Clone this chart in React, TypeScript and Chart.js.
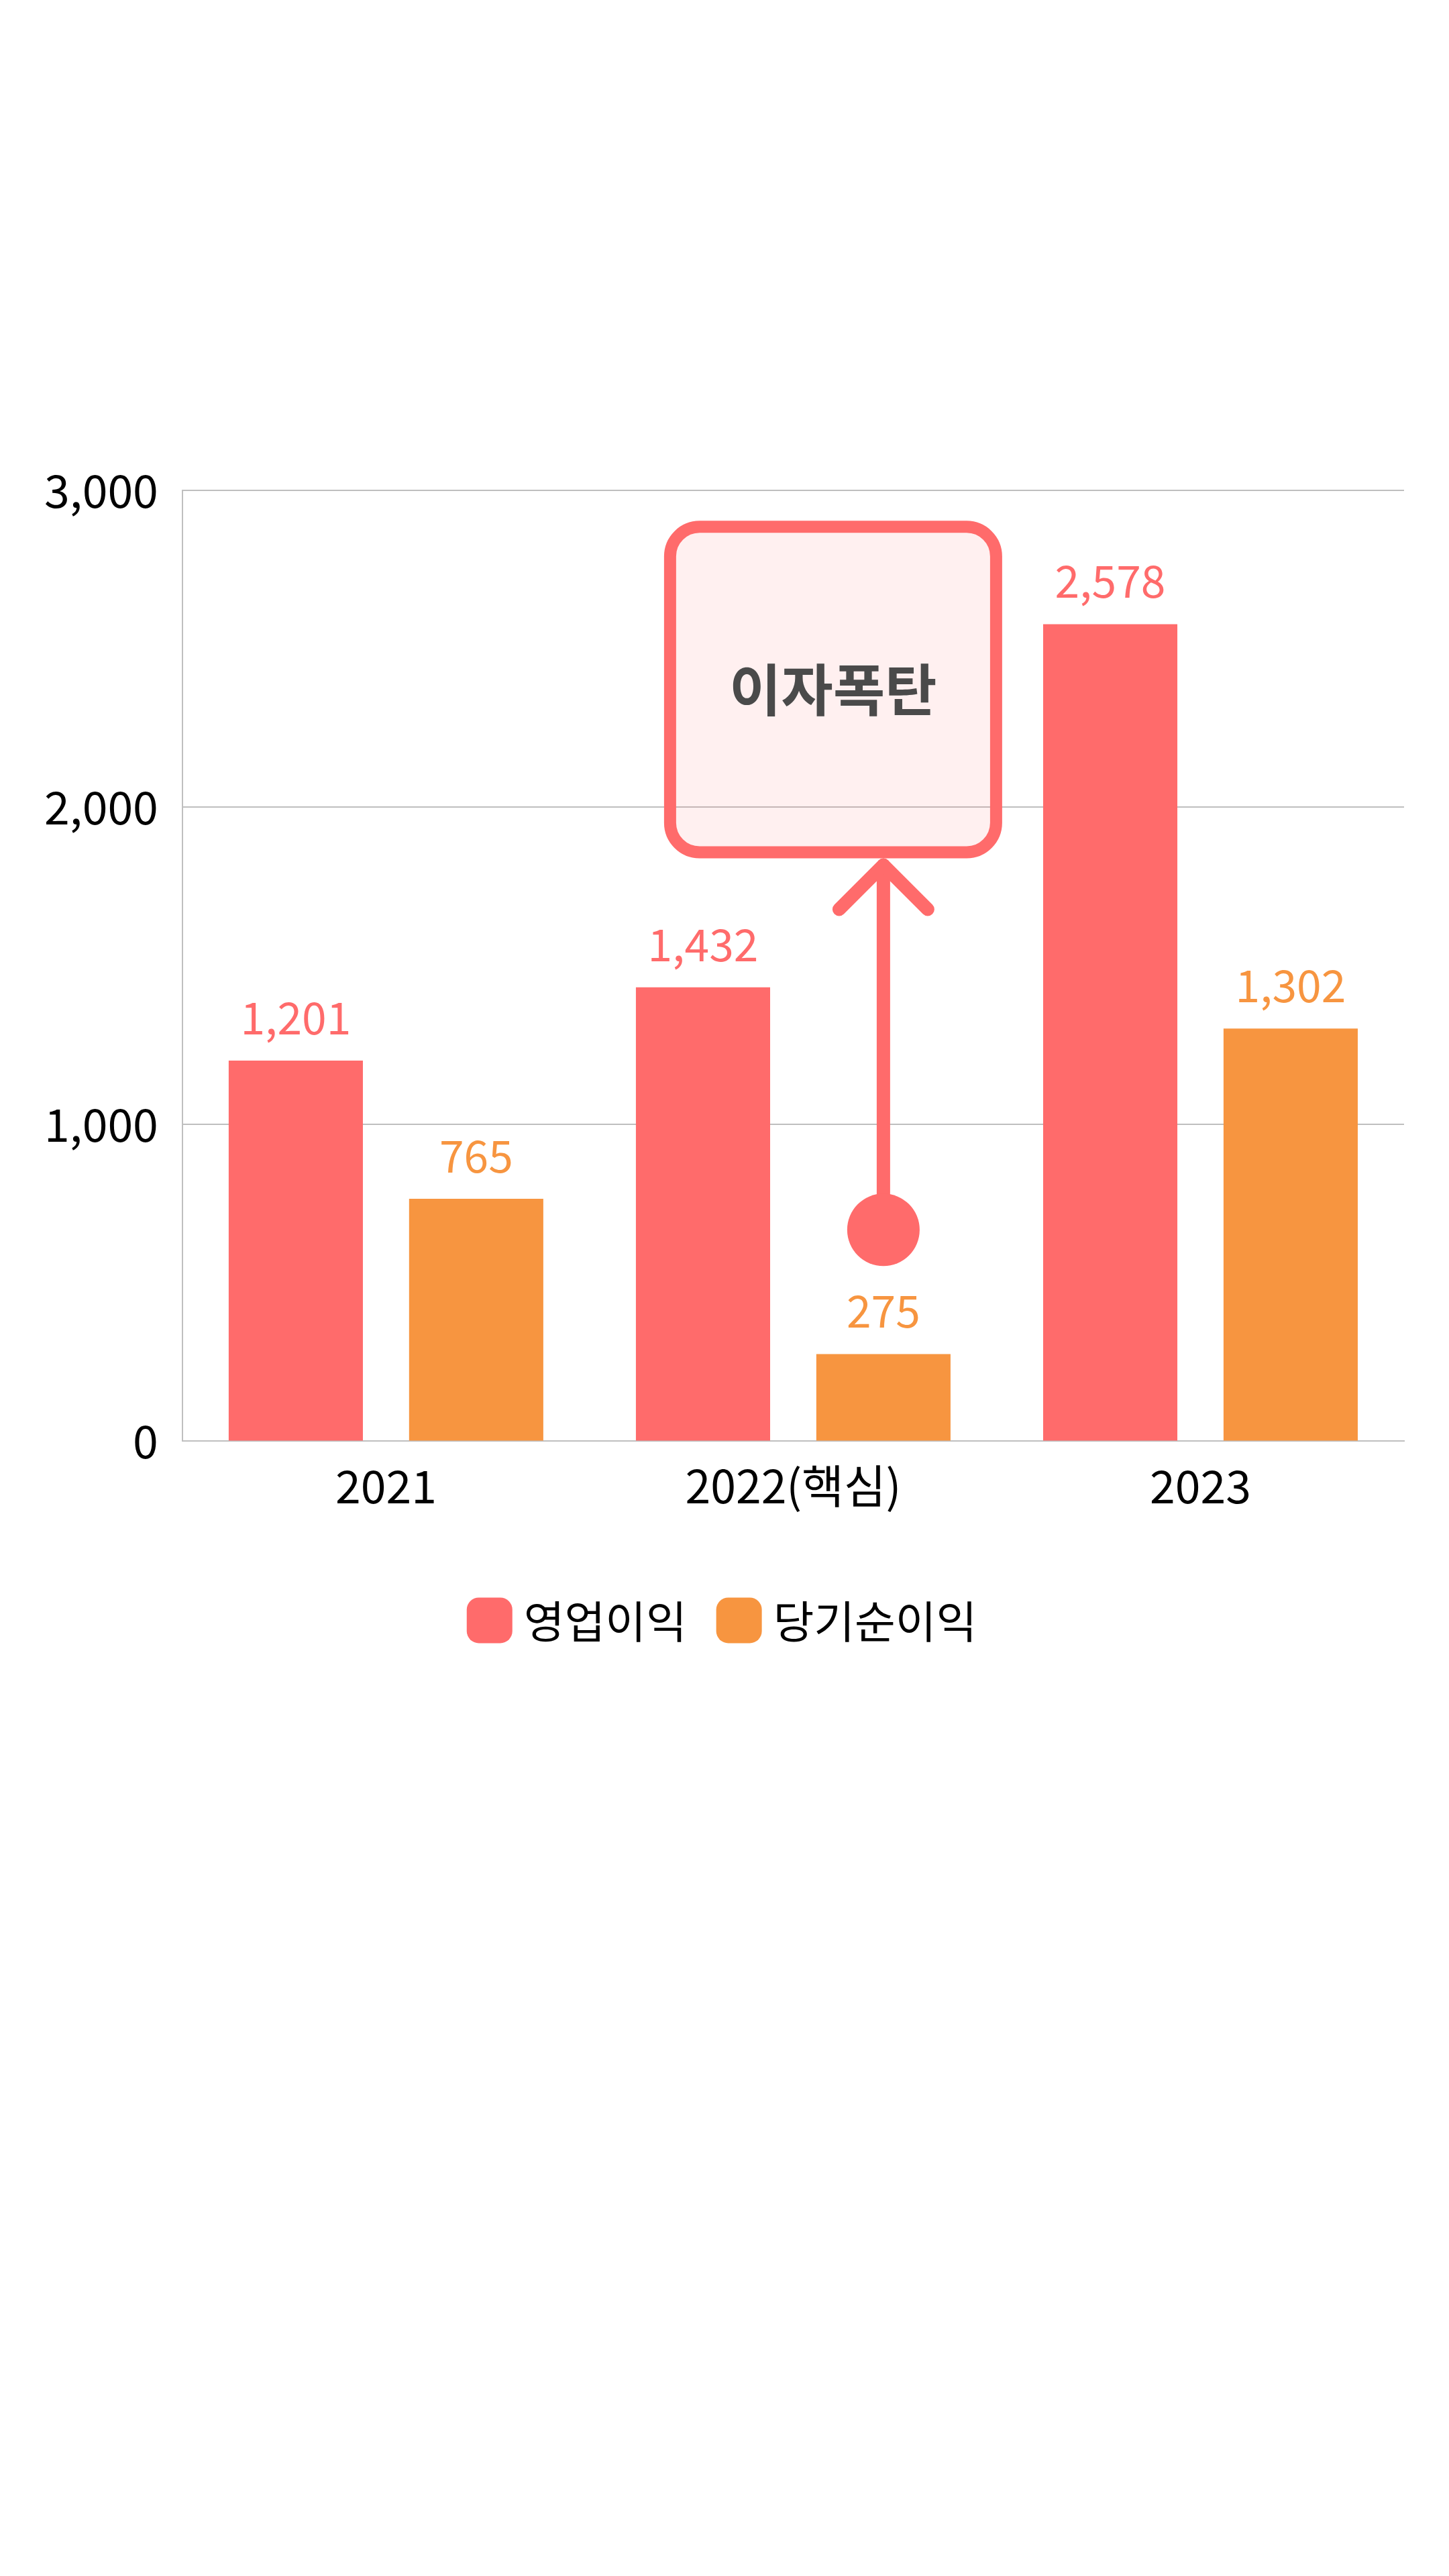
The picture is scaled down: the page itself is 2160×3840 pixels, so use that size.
import { useEffect, useRef } from "react";
import { Chart, registerables } from "chart.js";

Chart.register(...registerables);

const categories = ["2021", "2022(핵심)", "2023"];
const operatingProfit = [1201, 1432, 2578];
const netProfit = [765, 275, 1302];
const seriesLabels = ["영업이익", "당기순이익"];
const yMax = 3000;
const yStep = 1000;

// callout pointing at the 2022 net profit bar
const calloutText = "이자폭탄";
const calloutIndex = 1;
const calloutFrom = 667;
const calloutTo = 1839;
const calloutTop = 2904;

const RED = "#ff6b6b";
const ORANGE = "#f79540";
const GRID = "#bfbfbf";
const FONT = "'Noto Sans CJK KR', 'Noto Sans', sans-serif";

const fmt = (v: number) => v.toLocaleString("en-US");

const valueLabels = {
  id: "valueLabels",
  afterDatasetsDraw(chart: any) {
    const ctx = chart.ctx;
    ctx.save();
    ctx.font = `400 66px ${FONT}`;
    ctx.textAlign = "center";
    ctx.textBaseline = "alphabetic";
    chart.data.datasets.forEach((ds: any, i: number) => {
      const meta = chart.getDatasetMeta(i);
      ctx.fillStyle = ds.backgroundColor;
      meta.data.forEach((bar: any, j: number) => {
        ctx.fillText(fmt(ds.data[j]), bar.x, bar.y - 39);
      });
    });
    ctx.restore();
  },
};

const callout = {
  id: "callout",
  afterDatasetsDraw(chart: any) {
    const ctx = chart.ctx;
    const y = chart.scales.y;
    const bar = chart.getDatasetMeta(1).data[calloutIndex];
    const x = bar.x;
    const yFrom = y.getPixelForValue(calloutFrom);
    const yTo = y.getPixelForValue(calloutTo);
    const yTop = y.getPixelForValue(calloutTop);
    const lw = 18;
    const left = x - 327;
    const right = x + 177;

    ctx.save();
    // box
    ctx.beginPath();
    ctx.roundRect(left + lw / 2, yTop + lw / 2, right - left - lw, yTo - yTop - lw, 44);
    ctx.fillStyle = "rgba(255,107,107,0.1)";
    ctx.fill();
    ctx.lineWidth = lw;
    ctx.strokeStyle = RED;
    ctx.stroke();

    ctx.fillStyle = "#4a4a4a";
    ctx.font = `700 84px ${FONT}`;
    ctx.textAlign = "center";
    ctx.textBaseline = "middle";
    ctx.fillText(calloutText, (left + right) / 2, (yTop + yTo) / 2);

    // arrow
    ctx.lineWidth = 20;
    ctx.lineCap = "round";
    ctx.lineJoin = "round";
    ctx.beginPath();
    ctx.moveTo(x, yFrom);
    ctx.lineTo(x, yTo + 10);
    ctx.stroke();
    ctx.beginPath();
    ctx.moveTo(x - 66, yTo + 76);
    ctx.lineTo(x, yTo + 10);
    ctx.lineTo(x + 66, yTo + 76);
    ctx.stroke();

    ctx.beginPath();
    ctx.arc(x, yFrom, 54, 0, Math.PI * 2);
    ctx.fillStyle = RED;
    ctx.fill();
    ctx.restore();
  },
};

const legendBoxes = {
  id: "legendBoxes",
  afterDraw(chart: any) {
    const ctx = chart.ctx;
    const area = chart.chartArea;
    const box = 68;
    const gap = 17;
    const itemGap = 44;
    ctx.save();
    ctx.font = `400 66px ${FONT}`;
    const widths = chart.data.datasets.map((ds: any) => ctx.measureText(ds.label).width);
    const total =
      widths.reduce((a: number, w: number) => a + w + box + gap, 0) + itemGap * (widths.length - 1);
    let cx = 1076 - total / 2;
    const cy = area.bottom + 267;
    ctx.textBaseline = "middle";
    ctx.textAlign = "left";
    chart.data.datasets.forEach((ds: any, i: number) => {
      ctx.beginPath();
      ctx.roundRect(cx, cy - box / 2, box, box, 18);
      ctx.fillStyle = ds.backgroundColor;
      ctx.fill();
      ctx.fillStyle = "#000";
      ctx.fillText(ds.label, cx + box + gap, cy + 2);
      cx += box + gap + widths[i] + itemGap;
    });
    ctx.restore();
  },
};

const BarChart = () => {
  const canvasRef = useRef<HTMLCanvasElement | null>(null);

  useEffect(() => {
    if (!canvasRef.current) return;
    const chart = new Chart(canvasRef.current, {
      type: "bar",
      data: {
        labels: categories,
        datasets: [
          {
            label: seriesLabels[0],
            data: operatingProfit,
            backgroundColor: RED,
            barPercentage: 0.744,
            categoryPercentage: 0.886,
          },
          {
            label: seriesLabels[1],
            data: netProfit,
            backgroundColor: ORANGE,
            barPercentage: 0.744,
            categoryPercentage: 0.886,
          },
        ],
      },
      options: {
        responsive: true,
        maintainAspectRatio: false,
        animation: false,
        layout: {
          padding: { top: 731, left: 30, right: 67, bottom: 1566 },
        },
        plugins: {
          legend: { display: false },
          tooltip: { enabled: false },
        },
        scales: {
          x: {
            grid: { display: false },
            border: { display: true, color: GRID, width: 2 },
            ticks: {
              color: "#000",
              padding: 18,
              font: { family: FONT, size: 68 },
            },
          },
          y: {
            min: 0,
            max: yMax,
            grid: { color: GRID, lineWidth: 2, drawTicks: false },
            border: { display: true, color: GRID, width: 2 },
            ticks: {
              stepSize: yStep,
              color: "#000",
              padding: 36,
              font: { family: FONT, size: 68 },
              callback: (v: any) => fmt(Number(v)),
            },
          },
        },
      },
      plugins: [valueLabels, callout, legendBoxes],
    });
    return () => chart.destroy();
  }, []);

  return <canvas ref={canvasRef}></canvas>;
};

export default function App() {
  return (
    <div
      style={{
        position: "absolute",
        left: 0,
        top: 0,
        width: 2160,
        height: 3840,
        background: "#fff",
      }}
    >
      <BarChart />
    </div>
  );
}
